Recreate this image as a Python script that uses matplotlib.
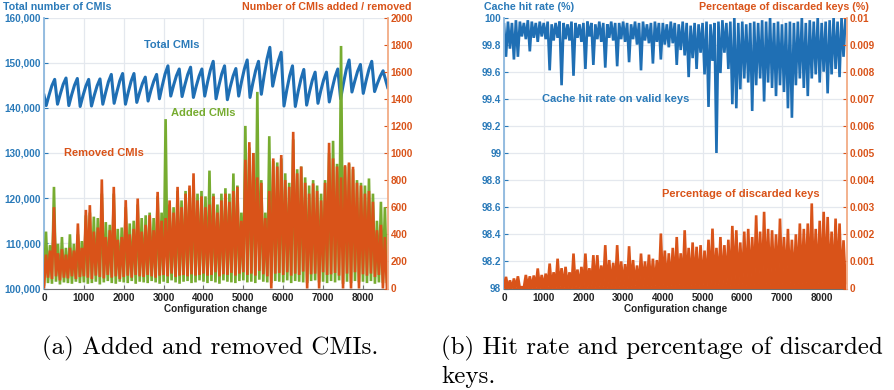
import numpy as np
import matplotlib
matplotlib.use("Agg")
import matplotlib.pyplot as plt
from matplotlib.ticker import FuncFormatter, MultipleLocator

plt.rcParams['font.family'] = ['Liberation Sans', 'DejaVu Sans']
plt.rcParams['font.weight'] = 'bold'

BLUE = '#1f6fb4'
BLUE_T = '#2a7ab9'
ORANGE = '#d95319'
GREEN = '#77ac30'

# ---------------- (a) data ----------------
total_start = 142800
total_end = 144500
# per daily cycle: trough, rise1, rise2, peak
total_cycles = [
    [140500, 142800, 144900, 146300], [140800, 143100, 145200, 146600],
    [140500, 142900, 145000, 146500], [140300, 142700, 144800, 146300],
    [140400, 142800, 144900, 146400], [140800, 143400, 145800, 147400],
    [141000, 143600, 146000, 147600], [140800, 143500, 145900, 147600],
    [141200, 143400, 145400, 146800], [141500, 143900, 145900, 147400],
    [142000, 144900, 147500, 149300], [142600, 145000, 147100, 148600],
    [142500, 145100, 147400, 149000], [142300, 144800, 147000, 148600],
    [142600, 145700, 148400, 150300], [142000, 144900, 147500, 149300],
    [141800, 144600, 147000, 148700], [142600, 145800, 148600, 150600],
    [142300, 145500, 148300, 150300], [143000, 147200, 150800, 153400],
    [144800, 147800, 150400, 152300], [140400, 144000, 147100, 149300],
    [140300, 143600, 146400, 148500], [140600, 143500, 146100, 147900],
    [141000, 143800, 146200, 147900], [141300, 144200, 146800, 148600],
    [142000, 145400, 148500, 150600], [143500, 145900, 148100, 149600],
    [143200, 146000, 148500, 150300], [143600, 145400, 147000, 148200],
]

removed_high = [250, 280, 600, 260, 290, 250, 300, 280, 480, 300,
                580, 615, 420, 450, 805, 380, 430, 750, 360, 380,
                652, 400, 440, 664, 420, 470, 541, 430, 713, 500,
                520, 650, 560, 750, 600, 700, 760, 850, 650, 680,
                600, 620, 680, 560, 650, 700, 640, 720, 750, 500,
                950, 1080, 1000, 820, 780, 520, 720, 960, 900, 985,
                800, 750, 1156, 850, 900, 780, 700, 775, 720, 650,
                780, 1075, 960, 900, 820, 910, 930, 898, 780, 760,
                700, 720, 640, 430, 470, 380]
removed_low = [10, 80, 70, 90, 60, 80, 75, 90, 70, 85,
               90, 80, 70, 95, 85, 75, 100, 80, 90, 70,
               85, 95, 80, 100, 90, 85, 100, 90, 80, 95,
               100, 90, 110, 85, 95, 100, 90, 105, 95, 100,
               110, 95, 100, 120, 90, 105, 100, 115, 95, 110,
               120, 100, 110, 95, 130, 105, 90, 0, 110, 115,
               100, 120, 95, 110, 100, 125, 0, 105, 110, 0,
               120, 100, 105, 115, 95, 0, 110, 0, 120, 0,
               105, 95, 110, 85, 100, 0, 0]
added_high = [420, 320, 750, 330, 380, 300, 400, 330, 400, 350,
              540, 560, 530, 520, 700, 490, 470, 700, 440, 450,
              600, 480, 500, 620, 520, 540, 560, 520, 680, 560,
              1250, 620, 600, 720, 650, 720, 740, 800, 700, 720,
              680, 870, 700, 620, 700, 740, 700, 849, 760, 560,
              1200, 1040, 1000, 1451, 800, 560, 1124, 940, 930, 960,
              850, 780, 1100, 880, 900, 820, 760, 800, 760, 700,
              800, 1000, 1090, 920, 1790, 900, 920, 880, 800, 780,
              760, 812, 700, 500, 640, 600]
added_low = [30, 40, 35, 50, 30, 45, 40, 35, 50, 40,
             45, 35, 40, 50, 30, 45, 55, 40, 35, 50,
             45, 40, 55, 35, 50, 45, 40, 55, 45, 35,
             50, 40, 60, 45, 35, 50, 55, 40, 45, 60,
             50, 40, 55, 45, 35, 60, 50, 45, 40, 55,
             60, 45, 50, 40, 65, 50, 45, 40, 55, 50,
             45, 60, 40, 55, 50, 45, 40, 55, 60, 45,
             50, 40, 55, 45, 60, 35, 50, 40, 55, 45,
             50, 40, 55, 35, 45, 40, 50]

# ---------------- (b) data ----------------
hit_high = [99.95, 99.97, 99.96, 99.98, 99.97, 99.96, 99.98, 99.97, 99.96, 99.97,
            99.96, 99.97, 99.95, 99.96, 99.97, 99.96, 99.95, 99.97, 99.96, 99.95,
            99.96, 99.97, 99.96, 99.95, 99.97, 99.96, 99.95, 99.97, 99.96, 99.96,
            99.97, 99.96, 99.95, 99.97, 99.96, 99.97, 99.95, 99.96, 99.97, 99.96,
            99.96, 99.95, 99.97, 99.96, 99.95, 99.97, 99.96, 99.94, 99.96, 99.95,
            99.96, 99.97, 99.95, 99.96, 99.97, 99.98, 99.96, 99.97, 100.0, 99.96,
            99.97, 99.95, 99.96, 99.97, 99.96, 99.98, 99.97, 100.0, 99.96, 99.97,
            99.95, 99.96, 99.97, 99.96, 99.97, 100.0, 99.96, 99.98, 99.97, 100.0,
            99.96, 99.97, 99.98, 100.0, 99.97, 100.0, 100.0]
hit_low = [99.71, 99.77, 99.69, 99.71, 99.86, 99.84, 99.75, 99.85, 99.82, 99.86,
           99.84, 99.61, 99.83, 99.85, 99.50, 99.84, 99.83, 99.57, 99.85, 99.82,
           99.62, 99.86, 99.65, 99.84, 99.82, 99.63, 99.85, 99.83, 99.64, 99.84,
           99.82, 99.67, 99.84, 99.80, 99.61, 99.83, 99.81, 99.66, 99.82, 99.69,
           99.80, 99.78, 99.81, 99.65, 99.76, 99.72, 99.56, 99.70, 99.62, 99.74,
           99.58, 99.34, 99.68, 99.00, 99.59, 99.74, 99.62, 99.36, 99.33, 99.47,
           99.55, 99.52, 99.31, 99.50, 99.55, 99.38, 99.52, 99.48, 99.42, 99.50,
           99.45, 99.33, 99.26, 99.50, 99.55, 99.48, 99.42, 99.55, 99.58, 99.52,
           99.60, 99.44, 99.58, 99.62, 99.56, 99.71]
# percentage of discarded keys, in units of 0.001 %
disc_high = [0.43, 0.30, 0.37, 0.45, 0.05, 0.50, 0.45, 0.48, 0.74, 0.50,
             0.55, 0.92, 0.60, 1.10, 0.75, 0.80, 0.60, 1.29, 0.70, 0.80,
             1.29, 0.75, 1.23, 1.23, 0.85, 1.60, 1.05, 0.95, 1.60, 1.00,
             0.90, 1.56, 1.05, 0.85, 1.29, 1.00, 1.25, 1.10, 1.05, 2.03,
             1.40, 1.30, 1.50, 1.90, 1.30, 2.15, 1.50, 1.70, 1.54, 1.60,
             1.40, 1.80, 2.21, 1.50, 1.90, 1.60, 1.80, 2.31, 2.15, 1.70,
             2.10, 2.20, 1.90, 2.70, 2.10, 2.83, 2.20, 2.15, 2.00, 2.58,
             1.90, 2.20, 1.80, 2.00, 2.40, 2.20, 2.40, 3.14, 2.20, 2.50,
             2.83, 2.64, 2.10, 2.58, 2.40, 1.78]
disc_low = [0.05, 0.02, 0.0, 0.04, 0.0, 0.03, 0.06, 0.02, 0.05, 0.0,
            0.04, 0.07, 0.02, 0.05, 0.08, 0.03, 0.06, 0.0, 0.07, 0.04,
            0.08, 0.05, 0.10, 0.03, 0.07, 0.09, 0.04, 0.10, 0.06, 0.08,
            0.12, 0.05, 0.09, 0.11, 0.06, 0.10, 0.13, 0.07, 0.11, 0.09,
            0.14, 0.08, 0.12, 0.10, 0.15, 0.09, 0.13, 0.11, 0.16, 0.10,
            0.14, 0.12, 0.17, 0.10, 0.15, 0.13, 0.18, 0.11, 0.16, 0.14,
            0.19, 0.12, 0.17, 0.15, 0.20, 0.13, 0.18, 0.16, 0.21, 0.14,
            0.19, 0.17, 0.22, 0.15, 0.20, 0.18, 0.23, 0.16, 0.05, 0.19,
            0.22, 0.17, 0.21, 0.18, 0.24, 0.16, 0.20]

STEP = 50


def interleave(first, second):
    out = []
    for i in range(len(second)):
        out.append(first[i])
        out.append(second[i])
    out.extend(first[len(second):])
    return np.array(out, dtype=float)


total = np.array([total_start] + [v for c in total_cycles for v in c] + [total_end], float)
total_x = np.concatenate(([0], 55 + 71 * np.arange(len(total_cycles) * 4), [8620]))

removed = interleave(removed_low, removed_high)
added = interleave(added_low, added_high)
ax_x = np.arange(len(removed)) * STEP

hit = interleave(hit_high, hit_low)
hit_x = np.arange(len(hit)) * STEP
disc = interleave(disc_low, disc_high) * 1e-3
disc_x = np.arange(len(disc)) * STEP

W, H = 894, 390
fig = plt.figure(figsize=(W / 100, H / 100), dpi=100)


def fx(px):
    return px / W


def fy(py):
    return 1 - py / H


def style(ax, axr, lcol, rcol):
    ax.grid(True, color='#e4e8ee', linewidth=0.9)
    ax.set_axisbelow(True)
    for a in (ax, axr):
        a.spines['top'].set_visible(False)
    ax.spines['right'].set_visible(False)
    axr.spines['left'].set_visible(False)
    axr.spines['bottom'].set_visible(False)
    ax.spines['left'].set_color(lcol)
    ax.spines['left'].set_linewidth(1.3)
    axr.spines['right'].set_color(rcol)
    axr.spines['right'].set_linewidth(1.3)
    ax.spines['bottom'].set_color('#6f6f6f')
    ax.spines['bottom'].set_linewidth(0.8)
    ax.tick_params(axis='y', direction='in', length=3, color=BLUE_T, labelcolor=BLUE_T,
                   labelsize=7.2, pad=2)
    ax.tick_params(axis='x', direction='in', length=3, color='#6f6f6f', labelcolor='#222222',
                   labelsize=7.2, pad=3)
    axr.tick_params(axis='y', direction='in', length=3, color=ORANGE, labelcolor=ORANGE,
                    labelsize=7.2, pad=2)
    ax.xaxis.set_major_locator(MultipleLocator(1000))


LW = 1.9

# ---------- panel (a) ----------
axA = fig.add_axes([fx(44), fy(288.5), fx(387.7 - 44), (288.5 - 17.5) / H])
axA2 = axA.twinx()
axA.plot(total_x, total, color=BLUE, lw=2.2, solid_joinstyle='round')
axA2.plot(ax_x, added, color=GREEN, lw=LW, solid_joinstyle='miter')
axA2.plot(ax_x, removed, color=ORANGE, lw=LW, solid_joinstyle='miter')
axA.set_xlim(0, 8620)
axA.set_ylim(100000, 160000)
axA.yaxis.set_major_locator(MultipleLocator(10000))
axA.yaxis.set_major_formatter(FuncFormatter(lambda v, p: f"{v:,.0f}"))
axA2.set_ylim(0, 2000)
axA2.yaxis.set_major_locator(MultipleLocator(200))
axA2.yaxis.set_major_formatter(FuncFormatter(lambda v, p: f"{v:.0f}"))
style(axA, axA2, '#8db8de', '#f2ab85')

# ---------- panel (b) ----------
axB = fig.add_axes([fx(504), fy(288.5), fx(847.3 - 504), (288.5 - 17.5) / H])
axB2 = axB.twinx()
axB.plot(hit_x, hit, color=BLUE, lw=LW, solid_joinstyle='miter')
axB2.plot(disc_x, disc, color=ORANGE, lw=LW, solid_joinstyle='miter')
axB2.fill_between(disc_x, 0, disc, color=ORANGE, lw=0)
axB.set_xlim(0, 8645)
axB.set_ylim(98, 100)
axB.yaxis.set_major_locator(MultipleLocator(0.2))
axB.yaxis.set_major_formatter(FuncFormatter(lambda v, p: f"{round(v, 2):g}"))
axB2.set_ylim(0, 0.01)
axB2.yaxis.set_major_locator(MultipleLocator(0.001))
axB2.yaxis.set_major_formatter(FuncFormatter(lambda v, p: f"{round(v, 4):g}"))
style(axB, axB2, '#8db8de', '#f2ab85')

# ---------- texts ----------
ts = 7.7
fig.text(fx(3), fy(7.5), "Total number of CMIs", color=BLUE_T, fontsize=ts, va='center', ha='left')
fig.text(fx(412), fy(7.5), "Number of CMIs added / removed", color=ORANGE, fontsize=ts,
         va='center', ha='right')
fig.text(fx(484), fy(7.5), "Cache hit rate (%)", color=BLUE_T, fontsize=ts, va='center', ha='left')
fig.text(fx(869), fy(7.5), "Percentage of discarded keys (%)", color=ORANGE, fontsize=ts,
         va='center', ha='right')

fig.text(fx(172), fy(45), "Total CMIs", color=BLUE_T, fontsize=8, ha='center', va='center')
fig.text(fx(203), fy(113), "Added CMIs", color=GREEN, fontsize=8, ha='center', va='center')
fig.text(fx(104), fy(153), "Removed CMIs", color=ORANGE, fontsize=8, ha='center', va='center')
fig.text(fx(616), fy(99), "Cache hit rate on valid keys", color=BLUE_T, fontsize=8,
         ha='center', va='center')
fig.text(fx(741), fy(194), "Percentage of discarded keys", color=ORANGE, fontsize=8,
         ha='center', va='center')

fig.text(fx(215.5), fy(309), "Configuration change", color='#222222', fontsize=7.2,
         ha='center', va='center')
fig.text(fx(675.5), fy(309), "Configuration change", color='#222222', fontsize=7.2,
         ha='center', va='center')

cap = dict(family='cmr10', fontweight='normal', fontsize=18, color='black', va='center', ha='left')
fig.text(fx(42), fy(348), "(a) Added and removed CMIs.", **cap)
fig.text(fx(441), fy(348), "(b) Hit rate and percentage of discarded", **cap)
fig.text(fx(441), fy(377), "keys.", **cap)

fig.savefig("out.png", dpi=100)
